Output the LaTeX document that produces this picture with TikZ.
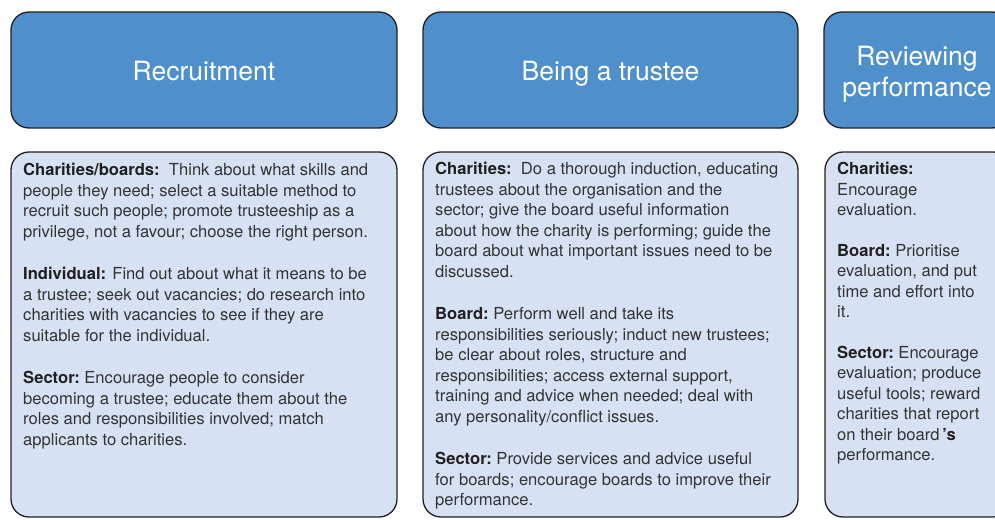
\documentclass[tikz,border=0pt]{standalone}
\usepackage{fontspec}
\setmainfont{TeX Gyre Heros}
\definecolor{hdrblue}{HTML}{4F8FCC}
\definecolor{bodyblue}{HTML}{D6E2F3}
\definecolor{edgecol}{HTML}{231F20}
\definecolor{txt}{HTML}{333333}
\newcommand{\lbl}[1]{\textbf{\color{edgecol}#1}}
\begin{document}
\begin{tikzpicture}[x=1pt,y=-1pt,
  hdr/.style={draw=edgecol, line width=1.3pt, fill=hdrblue, rounded corners=18pt,
    text=white, font=\fontsize{26.5}{31}\selectfont, align=center, inner sep=0pt},
  bodybox/.style={draw=edgecol, line width=1.3pt, fill=bodyblue, rounded corners=18pt, inner sep=0pt},
  bodytext/.style={text=txt, font=\fontsize{16.6}{20.5}\selectfont, align=left,
    anchor=north west, inner sep=0pt}]
\useasboundingbox (0,0) rectangle (995,519);
\clip (0,0) rectangle (995,519);

% headers
\node[hdr, minimum width=386pt, minimum height=116pt, text height=21pt, text depth=0pt] (h1) at (204,70) {Recruitment};
\node[hdr, minimum width=375pt, minimum height=116pt, text height=21pt, text depth=0pt] (h2) at (610.5,70) {Being a trustee};
\node[hdr, minimum width=186pt, minimum height=116pt] (h3) at (917,70)
  {\raisebox{-5pt}[\height][\depth]{\begin{tabular}{@{}c@{}}Reviewing\\performance\end{tabular}}};

% body boxes
\node[bodybox, minimum width=386pt, minimum height=365pt] (b1) at (204,334.5) {};
\node[bodybox, minimum width=375pt, minimum height=365pt] (b2) at (610.5,334.5) {};
\node[bodybox, minimum width=186pt, minimum height=365pt] (b3) at (918,334.5) {};

% body texts
\node[bodytext] (t1) at (23,163) {%
\lbl{Charities/boards:}\ \ Think about what skills and\\
people they need; select a suitable method to\\
recruit such people; promote trusteeship as a\\
privilege, not a favour; choose the right person.\\[22pt]
\lbl{Individual:} Find out about what it means to be\\
a trustee; seek out vacancies; do research into\\
charities with vacancies to see if they are\\
suitable for the individual.\\[22pt]
\lbl{Sector:}\ Encourage people to consider\\
becoming a trustee; educate them about the\\
roles and responsibilities involved; match\\
applicants to charities.};

\node[bodytext] (t2) at (435,162) {%
\lbl{Charities:}\ \ Do a thorough induction, educating\\
trustees about the organisation and the\\
sector; give the board useful information\\
about how the charity is performing; guide the\\
board about what important issues need to be\\
discussed.\\[22pt]
\lbl{Board:}\ Perform well and take its\\
responsibilities seriously; induct new trustees;\\
be clear about roles, structure and\\
responsibilities; access external support,\\
training and advice when needed; deal with\\
any personality/conflict issues.\\[22pt]
\lbl{Sector:}\ Provide services and advice useful\\
for boards; encourage boards to improve their\\
performance.};

\node[bodytext] (t3) at (837,162) {%
\lbl{Charities:}\\
Encourage\\
evaluation.\\[20pt]
\lbl{Board:}\ Prioritise\\
evaluation, and put\\
time and effort into\\
it.\\[20pt]
\lbl{Sector:}\ Encourage\\
evaluation; produce\\
useful tools; reward\\
charities that report\\
on their board\,\textbf{\color{edgecol}’s}\\
performance.};
\end{tikzpicture}
\end{document}
